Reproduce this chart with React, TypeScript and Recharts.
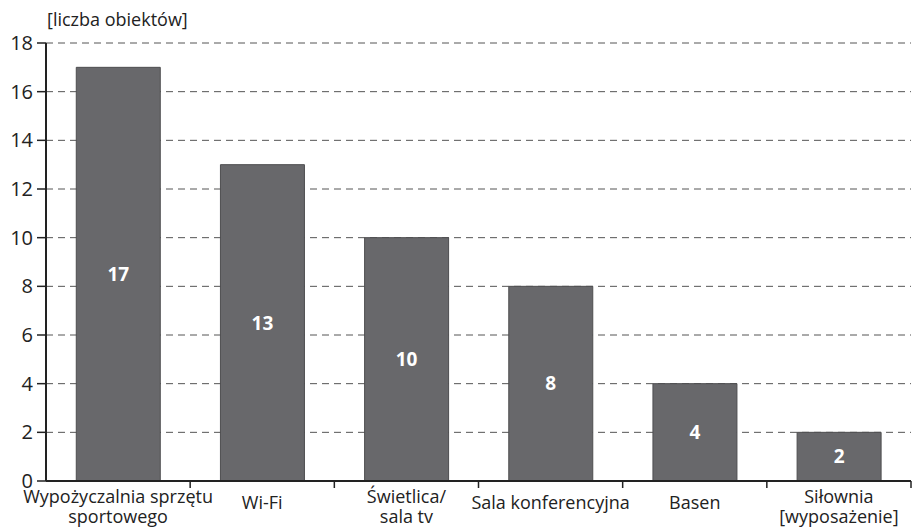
import { Bar, BarChart, CartesianGrid, LabelList, XAxis, YAxis } from "recharts";

const categories = ["Wypożyczalnia sprzętu|sportowego", "Wi-Fi", "Świetlica/|sala tv", "Sala konferencyjna", "Basen", "Siłownia|[wyposażenie]"];
const counts = [17, 13, 10, 8, 4, 2];
const yTicks = [0, 2, 4, 6, 8, 10, 12, 14, 16, 18];

const data = categories.map((name, i) => ({ name, total: counts[i] }));

const W = 919;
const H = 532;
const margin = { top: 43, right: 8, bottom: 0, left: 0 };
const yAxisWidth = 46;
const xAxisHeight = 51;
const font = "'Open Sans', sans-serif";
const step = (W - margin.left - margin.right - yAxisWidth) / categories.length;

function CategoryTick(props: any) {
    const { x, y, payload } = props;
    const lines = String(payload.value).split("|");
    const first = lines.length > 1 ? 14 : 20;
    return (
        <g>
            <line x1={x + step / 2} y1={y - 8} x2={x + step / 2} y2={y - 1} stroke="#222" strokeWidth={1.5} />
            <text x={x} y={y + first} textAnchor="middle" fontSize={18} fill="#222" fontFamily={font}>
                {lines.map((l, i) => (
                    <tspan key={i} x={x} dy={i === 0 ? 0 : 20}>{l}</tspan>
                ))}
            </text>
        </g>
    );
}

function UnitLabel(props: any) {
    const { viewBox } = props;
    return (
        <text x={viewBox.x + viewBox.width + 1} y={viewBox.y - 17} fontSize={18} fill="#222" fontFamily={font}>
            [liczba obiektów]
        </text>
    );
}

export default function App() {
    return (
        <div style={{ position: "absolute", left: 0, top: 0, background: "#fff" }}>
            <BarChart width={W} height={H} data={data} margin={margin} barCategoryGap="21%">
                <CartesianGrid vertical={false} stroke="#555" strokeDasharray="7 5" />
                <XAxis
                    dataKey="name"
                    height={xAxisHeight}
                    interval={0}
                    tickLine={false}
                    tick={<CategoryTick />}
                    axisLine={{ stroke: "#222", strokeWidth: 2 }}
                />
                <YAxis
                    width={yAxisWidth}
                    domain={[0, 18]}
                    ticks={yTicks}
                    interval={0}
                    tickSize={9}
                    tickMargin={4}
                    tickLine={{ stroke: "#222", strokeWidth: 1.5 }}
                    axisLine={{ stroke: "#222", strokeWidth: 2 }}
                    tick={{ fontSize: 20, fill: "#222", fontFamily: font }}
                    label={<UnitLabel />}
                />
                <Bar dataKey="total" fill="#68686b" stroke="#4e4e50" strokeWidth={1} isAnimationActive={false}>
                    <LabelList dataKey="total" position="center" fill="#fff" fontSize={19} fontWeight={700} fontFamily={font} />
                </Bar>
            </BarChart>
        </div>
    );
}
